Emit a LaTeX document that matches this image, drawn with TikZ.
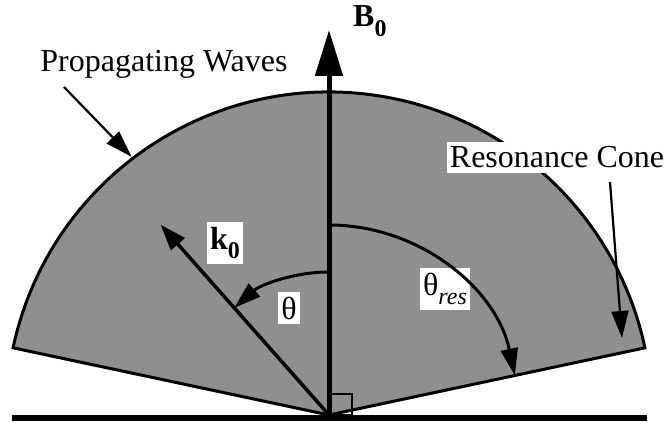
\documentclass[tikz,border=0pt]{standalone}
\usepackage{fontspec}
\setmainfont{Liberation Serif}
\usepackage{tikz}
\usetikzlibrary{arrows.meta}
\definecolor{conefill}{gray}{0.56}
\newcommand{\bigfont}{\fontsize{32}{32}\selectfont}
\newcommand{\subfont}{\fontsize{24}{24}\selectfont}

\begin{document}
\begin{tikzpicture}[x=1pt,y=1pt,
  lbl/.style={font=\bigfont,inner sep=0pt},
  boxlbl/.style={font=\bigfont,fill=white,inner xsep=3pt,inner ysep=5pt},
  bigtip/.style={-{Triangle[length=27pt,width=17pt]}}]
  \useasboundingbox (-329,-7) rectangle (337,415);
  % cone, radius 323, edges at 12 and 168 deg
  \coordinate (O) at (0,0);
  \filldraw[fill=conefill,line width=3pt,line join=miter]
    (O) -- (168:323) arc[start angle=168,end angle=12,radius=323] -- cycle;
  % base line and right angle
  \coordinate (baseL) at (-317,-3);
  \coordinate (baseR) at (318,-3);
  \draw[line width=5.5pt] (baseL) -- (baseR);
  \draw[line width=1.5pt] (O) rectangle (23,21);
  % labels
  \node[lbl,anchor=base] (pw) at (-165,343) {Propagating Waves};
  \node[boxlbl,anchor=base] (rc) at (228,247) {Resonance Cone};
  \node[lbl,anchor=base west] (b0) at (24,388)
    {\textbf{B}\raisebox{-0.3em}{\subfont\textbf{0}}};
  \node[boxlbl] (k0) at (-104,172) {\textbf{k}\raisebox{-0.3em}{\subfont\textbf{0}}};
  \node[boxlbl] (th) at (-40,107) {θ};
  \node[boxlbl] (thres) at (116,126) {θ\raisebox{-0.3em}{\subfont\textit{res}}};
  % field and wave vector
  \coordinate (btip) at (0,385);
  \coordinate (ktip) at (131.5:254);
  \draw[line width=5pt,-{Triangle[length=46pt,width=27pt]}] (O) -- (btip);
  \draw[line width=3.5pt,-{Triangle[length=26pt,width=18pt]}] (O) -- (ktip);
  % angles
  \coordinate (thA) at (90:143);
  \coordinate (trA) at (90:190);
  \draw[line width=3pt,bigtip] (thA) arc[start angle=90,end angle=131.5,radius=143];
  \draw[line width=3pt,bigtip] (trA) arc[start angle=90,end angle=12,radius=190];
  % pointers
  \coordinate (pwtip) at (127.4:325);
  \coordinate (rctip) at (293,77);
  \draw[line width=2.2pt,bigtip] ([shift={(-100,-15)}]pw.base) -- (pwtip);
  \draw[line width=2.2pt,bigtip] ([shift={(53,-14)}]rc.base) -- (rctip);
\end{tikzpicture}
\end{document}
